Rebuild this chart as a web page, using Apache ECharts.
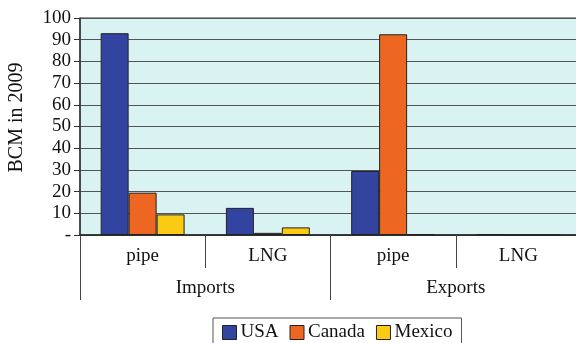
<!DOCTYPE html>
<html><head><meta charset="utf-8">
<script src="https://cdn.jsdelivr.net/npm/echarts@6/dist/echarts.min.js"></script>
<style>html,body{margin:0;padding:0;background:#fff}#c{width:576px;height:343px}</style>
</head><body><div id="c"></div>
<script>
const subCategories = ['pipe', 'LNG', 'pipe', 'LNG'];
const groupCategories = ['Imports', 'Exports'];
const usa = [93, 12.5, 29.5, 0.4];
const canada = [19.5, 1, 92.5, 0];
const mexico = [9.5, 3.5, 0.4, 0];
const yTicks = [0, 10, 20, 30, 40, 50, 60, 70, 80, 90, 100];

const font = '"Liberation Serif", "Times New Roman", serif';
const chart = echarts.init(document.getElementById('c'));
const barStyle = c => ({ color: c, borderColor: '#222', borderWidth: 1 });
chart.setOption({
  animation: false,
  textStyle: { fontFamily: font },
  grid: { left: 80, right: -5, top: 18, bottom: 108, outerBoundsMode: 'none', show: true, backgroundColor: '#d8f3f1', borderColor: '#333', borderWidth: 1 },
  legend: {
    left: 213, top: 318, orient: 'horizontal',
    data: ['USA', 'Canada', 'Mexico'],
    icon: 'rect', itemWidth: 14, itemHeight: 14, itemGap: 11,
    borderColor: '#555', borderWidth: 1, padding: [5, 9],
    textStyle: { fontFamily: font, fontSize: 19, color: '#111', padding: [0, 0, 0, -1] },
    itemStyle: { borderColor: '#222', borderWidth: 1 }
  },
  xAxis: [
    {
      type: 'category', data: subCategories, position: 'bottom',
      axisLine: { show: true, lineStyle: { color: '#222', width: 1.5 } },
      axisTick: { show: true, length: 33, alignWithLabel: false, lineStyle: { color: '#444' } },
      axisLabel: { fontFamily: font, fontSize: 19, color: '#111', margin: 12 }
    },
    {
      type: 'category', data: groupCategories, position: 'bottom',
      axisLine: { show: false },
      axisTick: { show: true, length: 65, lineStyle: { color: '#444' } },
      axisLabel: { fontFamily: font, fontSize: 19, color: '#111', margin: 44 }
    }
  ],
  yAxis: {
    type: 'value', min: 0, max: 100, interval: 10,
    name: 'BCM in 2009', nameLocation: 'middle', nameGap: 53, nameRotate: 90,
    nameTextStyle: { fontFamily: font, fontSize: 20, color: '#111', padding: [0, 0, 0, 18] },
    axisLine: { show: true, lineStyle: { color: '#333', width: 1.5 } },
    axisTick: { show: true, length: 6, lineStyle: { color: '#333' } },
    axisLabel: { fontFamily: font, fontSize: 19, color: '#111', margin: 9,
      formatter: v => yTicks.includes(v) ? (v === 0 ? '-' : String(v)) : '' },
    splitLine: { show: true, lineStyle: { color: '#555', width: 1 } }
  },
  series: [
    { name: 'USA', type: 'bar', data: usa, itemStyle: barStyle('#3243a0'), barGap: '0%', barCategoryGap: '33%' },
    { name: 'Canada', type: 'bar', data: canada, itemStyle: barStyle('#ee6722') },
    { name: 'Mexico', type: 'bar', data: mexico, itemStyle: barStyle('#fbca12') }
  ]
});
</script></body></html>
